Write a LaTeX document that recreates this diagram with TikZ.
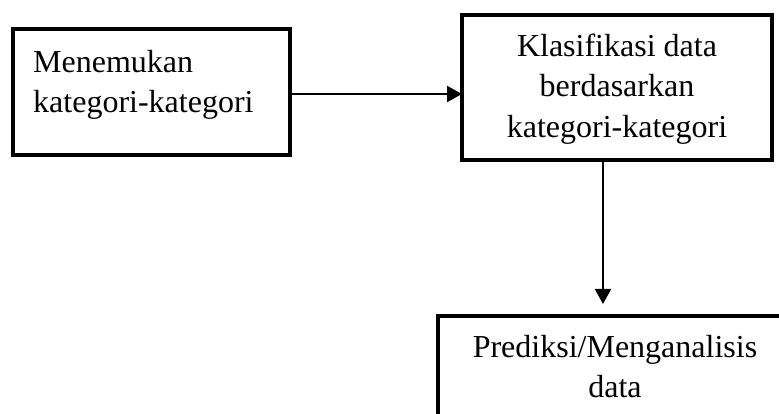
\documentclass[tikz,border=0pt]{standalone}
\usepackage{fontspec}
\setmainfont{Liberation Serif}
\usetikzlibrary{arrows.meta}
\begin{document}
\begin{tikzpicture}[x=1pt,y=1pt,
  boxnode/.style={draw, line width=4pt, rectangle, inner sep=0pt, outer sep=0pt},
  txt/.style={inner sep=0pt, font=\fontsize{32}{40.5}\selectfont},
  arr/.style={line width=2pt, -{Triangle[length=15pt,width=16pt]}}]
\useasboundingbox (0,0) rectangle (779,414);
\clip (0,0) rectangle (779,414);
% y_tikz = 414 - y_px
\node[boxnode, minimum width=277pt, minimum height=126pt] (b1) at (151.5,322) {};
\node[boxnode, minimum width=310pt, minimum height=145pt] (b2) at (617,326.5) {};
\node[boxnode, minimum width=358pt, minimum height=124pt] (b3) at (617,36) {};
\node[txt, align=left, anchor=west] (t1) at (33,329) {Menemukan\\kategori-kategori};
\node[txt, align=center] (t2) at (617,325) {Klasifikasi data\\berdasarkan\\kategori-kategori};
\node[txt, align=center] (t3) at (615,47.5) {Prediksi/Menganalisis\\data};
\draw[arr] ([yshift=-2pt]b1.east) -- ([yshift=-2pt]b1.east -| b2.west);
\draw[arr, shorten >=12pt] ([xshift=-14pt]b2.south) -- ([xshift=-14pt]b2.south |- b3.north);
\end{tikzpicture}
\end{document}
